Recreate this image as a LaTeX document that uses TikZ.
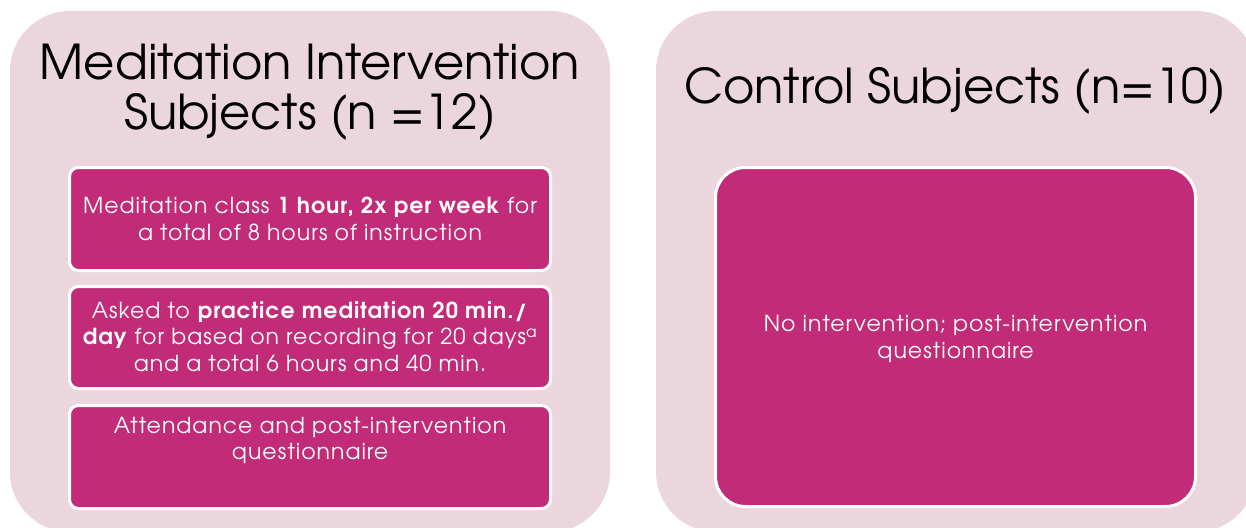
\documentclass[tikz,border=0pt]{standalone}
\usepackage{fontspec}
\setmainfont{TeX Gyre Adventor}
\newfontfamily\boxfont[LetterSpace=4.5]{TeX Gyre Adventor}
\definecolor{panelpink}{HTML}{EAD6DC}
\definecolor{boxmagenta}{HTML}{C22B78}
\begin{document}
\begin{tikzpicture}[x=1pt,y=-1pt,
  panel/.style={rectangle, fill=panelpink, rounded corners=60pt, inner sep=0pt},
  stepbox/.style={rectangle, fill=boxmagenta, draw=white, line width=3pt, rounded corners=9pt, inner sep=0pt},
  bigbox/.style={stepbox, rounded corners=30pt},
  titletext/.style={font=\fontsize{48}{50}\selectfont, text=black, align=center, inner sep=0pt},
  boxtext/.style={font=\boxfont\fontsize{22}{26.5}\selectfont, text=white, align=center, inner sep=0pt}]
\useasboundingbox (0,0) rectangle (1246,527);
\clip (0,0) rectangle (1246,527);
% two group panels
\node[panel, minimum width=600pt, minimum height=521pt] (treat) at (310,271.5) {};
\node[panel, minimum width=600pt, minimum height=521pt] (ctrl) at (956,271.5) {};
% panel headings
\node[titletext] (treattitle) at (310,92) {Meditation Intervention\\Subjects (n =12)};
\node[titletext] (ctrltitle) at (955,91) {Control Subjects (n=10)};
% intervention steps
\node[stepbox, minimum width=481pt, minimum height=103pt] (class) at (310,219) {};
\node[stepbox, minimum width=481pt, minimum height=102pt] (practice) at (310,337.5) {};
\node[stepbox, minimum width=481pt, minimum height=103pt] (survey) at (310,457) {};
\node[boxtext] (classtext) at (class.center) {Meditation class \textbf{1 hour, 2x per week} for\\a total of 8 hours of instruction};
\node[boxtext, anchor=north] (practicetext) at ([yshift=-16pt]practice.north) {Asked to \textbf{practice meditation 20 min./}\\\textbf{day} for based on recording for 20 days\textsuperscript{a}\\and a total 6 hours and 40 min.};
\node[boxtext, anchor=north] (surveytext) at ([yshift=-13pt]survey.north) {Attendance and post-intervention\\questionnaire};
% control arm
\node[bigbox, minimum width=480pt, minimum height=339pt] (none) at (955.5,337) {};
\node[boxtext] (nonetext) at ([yshift=-2pt]none.center) {No intervention; post-intervention\\questionnaire};
\end{tikzpicture}
\end{document}
